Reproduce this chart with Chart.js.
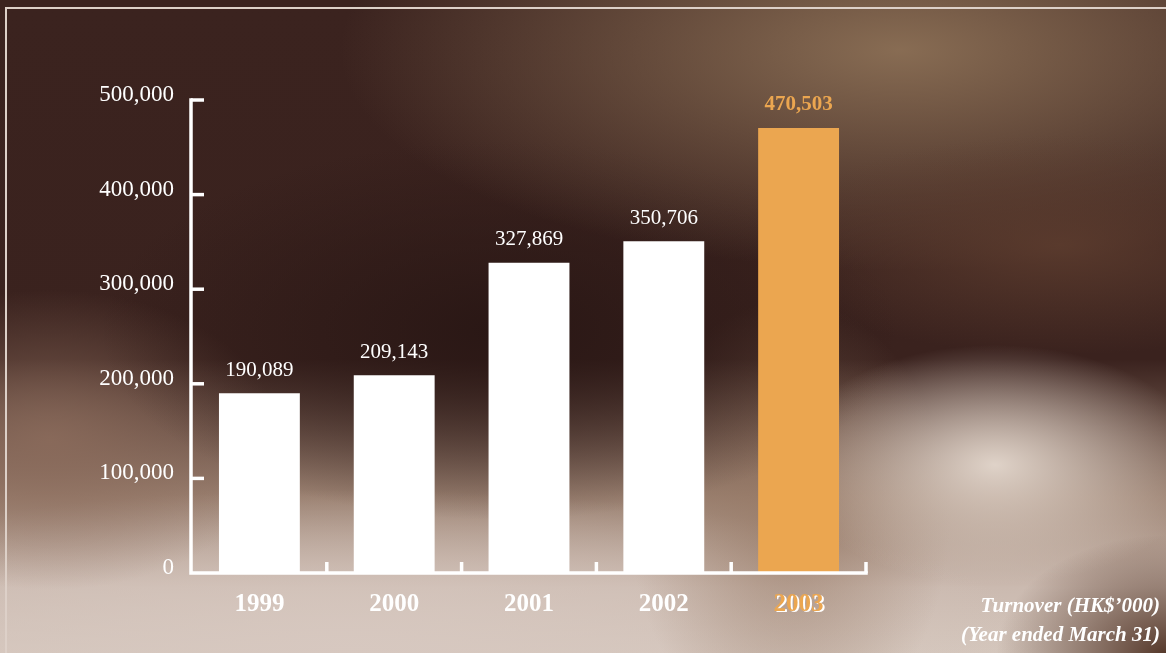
<!DOCTYPE html>
<html>
<head>
<meta charset="utf-8">
<script src="https://cdn.jsdelivr.net/npm/chart.js@4.4.1/dist/chart.umd.min.js"></script>
<style>
  html, body { margin: 0; padding: 0; }
  body {
    width: 1166px; height: 653px; overflow: hidden; position: relative;
    background:
      radial-gradient(ellipse 170px 120px at 1166px 655px, rgba(78,48,34,0.95), rgba(78,48,34,0) 100%),
      radial-gradient(ellipse 210px 120px at 995px 465px, rgba(228,216,206,0.95), rgba(228,216,206,0) 100%),
      radial-gradient(ellipse 300px 110px at 1060px 245px, rgba(92,60,46,0.9), rgba(92,60,46,0) 100%),
      radial-gradient(ellipse 560px 220px at 900px 50px, rgba(140,112,86,0.95), rgba(140,112,86,0) 100%),
      radial-gradient(ellipse 400px 190px at 500px 330px, rgba(40,22,20,0.9), rgba(40,22,20,0) 100%),
      radial-gradient(ellipse 160px 220px at 790px 520px, rgba(150,120,100,0.7), rgba(150,120,100,0) 100%),
      radial-gradient(ellipse 230px 150px at 50px 440px, rgba(140,108,92,0.85), rgba(140,108,92,0) 100%),
      radial-gradient(ellipse 700px 160px at 350px 650px, rgba(215,200,192,0.95), rgba(215,200,192,0) 100%),
      linear-gradient(to bottom, #3b231f 0%, #3a221e 55%, #9a8070 76%, #cbbab0 90%, #d4c6bc 100%);
  }
  #frame {
    position: absolute; left: 5px; top: 7px; right: -4px; bottom: -4px;
    border-left: 2px solid #ddd0c8; border-top: 2px solid #ddd0c8;
  }
  #wrap { position: absolute; left: 0; top: 0; width: 1166px; height: 653px; }
  #note {
    position: absolute; right: 6px; top: 591px;
    font-family: "Liberation Serif", serif; font-weight: bold; font-style: italic;
    font-size: 21px; line-height: 29px; color: #ffffff; text-align: right;
  }
</style>
</head>
<body>
<div id="frame"></div>
<div id="wrap"><canvas id="grafico-turnover"></canvas></div>
<div id="note">Turnover (HK$’000)<br>(Year ended March 31)</div>
<script>
// dados
const anos = ['1999', '2000', '2001', '2002', '2003'];
const turnover = [190089, 209143, 327869, 350706, 470503];
const corBarras = ['#ffffff', '#ffffff', '#ffffff', '#ffffff', '#eba650'];
const yTicks = [0, 100000, 200000, 300000, 400000, 500000];

const fonte = '"Liberation Serif", "Times New Roman", serif';

// eixos brancos com marcas para dentro
const eixosPlugin = {
    id: 'eixos',
    beforeDraw(chart) {
        // sombra branca do rótulo 2003
        const ctx = chart.ctx;
        const x = chart.scales.x;
        ctx.save();
        ctx.font = 'bold 25px ' + fonte;
        ctx.fillStyle = '#ffffff';
        ctx.textAlign = 'center';
        ctx.textBaseline = 'middle';
        const i = anos.length - 1;
        ctx.fillText(anos[i], x.getPixelForTick(i) + 2, x.top + 17 + 15 + 1);
        ctx.restore();
    },
    afterDatasetsDraw(chart) {
        const ctx = chart.ctx;
        const x = chart.scales.x;
        const y = chart.scales.y;
        const area = chart.chartArea;
        const ax = area.left - 1;
        ctx.save();
        ctx.strokeStyle = '#ffffff';
        ctx.lineWidth = 3.5;
        ctx.lineCap = 'square';
        ctx.beginPath();
        ctx.moveTo(ax, y.getPixelForValue(500000));
        ctx.lineTo(ax, area.bottom);
        ctx.lineTo(area.right, area.bottom);
        ctx.stroke();
        ctx.lineCap = 'butt';
        // marcas do eixo y
        yTicks.slice(1).forEach(v => {
            const py = y.getPixelForValue(v);
            ctx.beginPath();
            ctx.moveTo(ax, py);
            ctx.lineTo(ax + 13, py);
            ctx.stroke();
        });
        // marcas do eixo x, entre categorias
        const passo = (x.right - x.left) / anos.length;
        for (let k = 1; k <= anos.length; k++) {
            const px = x.left + passo * k;
            ctx.beginPath();
            ctx.moveTo(px, area.bottom);
            ctx.lineTo(px, area.bottom - 11);
            ctx.stroke();
        }
        // rótulos de valor
        const meta = chart.getDatasetMeta(0);
        ctx.textAlign = 'center';
        ctx.textBaseline = 'middle';
        meta.data.forEach((bar, k) => {
            const ultimo = k === anos.length - 1;
            ctx.font = (ultimo ? 'bold ' : '') + '21px ' + fonte;
            ctx.fillStyle = ultimo ? '#eba650' : '#ffffff';
            ctx.fillText(turnover[k].toLocaleString('en-US'), bar.x, bar.y - 23);
        });
        ctx.restore();
    }
};

const ctx1 = document.getElementById('grafico-turnover');
new Chart(ctx1, {
    type: 'bar',
    data: {
        labels: anos,
        datasets: [{
            data: turnover,
            backgroundColor: corBarras,
            borderWidth: 0,
            barPercentage: 0.6,
            categoryPercentage: 1.0
        }]
    },
    options: {
        responsive: true,
        maintainAspectRatio: false,
        animation: false,
        layout: {
            padding: { left: 0, top: 100, right: 300, bottom: 0 }
        },
        plugins: {
            legend: { display: false },
            tooltip: { enabled: false },
            title: { display: false }
        },
        scales: {
            x: {
                grid: { display: false, drawTicks: false },
                border: { display: false },
                afterFit: s => { s.height = 80; },
                ticks: {
                    padding: 17,
                    color: corBarras,
                    font: { family: fonte, size: 25, weight: 'bold' }
                }
            },
            y: {
                min: 0,
                max: 500000,
                grid: { display: false, drawTicks: false },
                border: { display: false },
                afterFit: s => { s.width = 192; },
                afterBuildTicks: s => { s.ticks = yTicks.map(v => ({ value: v })); },
                ticks: {
                    padding: 18,
                    labelOffset: -5,
                    color: '#ffffff',
                    font: { family: fonte, size: 23 },
                    callback: v => v.toLocaleString('en-US')
                }
            }
        }
    },
    plugins: [eixosPlugin]
});
</script>
</body>
</html>
